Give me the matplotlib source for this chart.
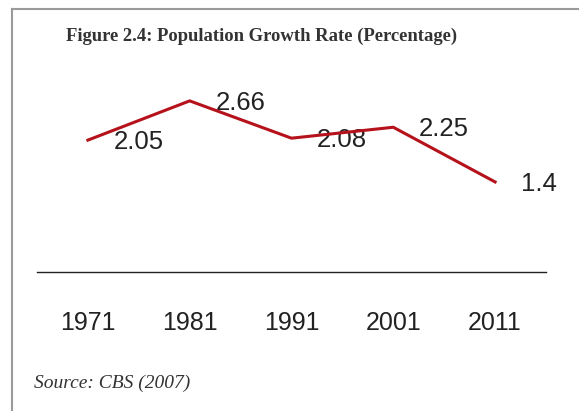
import matplotlib
matplotlib.use("Agg")
import matplotlib.pyplot as plt
from matplotlib.lines import Line2D

years = ["1971", "1981", "1991", "2001", "2011"]
growth = [2.05, 2.66, 2.08, 2.25, 1.4]
value_labels = ["2.05", "2.66", "2.08", "2.25", "1.4"]

W, H = 579, 411
fig = plt.figure(figsize=(W / 100, H / 100), dpi=100)

# border (left and top gray lines)
fig.add_artist(Line2D([12 / W, 12 / W], [0, 1 - 9 / H], transform=fig.transFigure,
                      color="#9a9a9a", lw=1.5))
fig.add_artist(Line2D([12 / W, 1], [1 - 9 / H, 1 - 9 / H], transform=fig.transFigure,
                      color="#9a9a9a", lw=1.5))

fig.text(262 / W, 1 - 36.5 / H, "Figure 2.4: Population Growth Rate (Percentage)",
         ha="center", va="center", fontsize=13.4, fontweight="bold",
         family="Liberation Serif", color="#333333")
fig.text(34 / W, 1 - 383 / H, "Source: CBS (2007)", ha="left", va="center",
         fontsize=14, style="italic", family="Liberation Serif", color="#333333")

ax = fig.add_axes([37 / W, 1 - 272 / H, (546 - 37) / W, (272 - 79) / H])
x = list(range(len(years)))
ax.plot(x, growth, color="#b5121b", lw=2.2, zorder=3)
for xi, yi, lab in zip(x, growth, value_labels):
    ax.annotate(lab, (xi, yi), xytext=(18.5, -1.5), textcoords="offset points",
                ha="left", va="center", fontsize=18.5, family="Liberation Sans",
                color="#222222", zorder=2)
ax.set_xlim(-0.5, len(years) - 0.5)
ax.set_ylim(0, 3)
ax.set_xticks(x)
ax.set_xticklabels(years, fontsize=18, family="Liberation Sans", color="#222222")
ax.tick_params(axis="x", length=0, pad=28)
ax.set_yticks([])
for s in ["top", "left", "right"]:
    ax.spines[s].set_visible(False)
ax.spines["bottom"].set_color("#222222")
ax.spines["bottom"].set_linewidth(1.0)
ax.patch.set_alpha(0)

fig.savefig("out.png", dpi=100)
